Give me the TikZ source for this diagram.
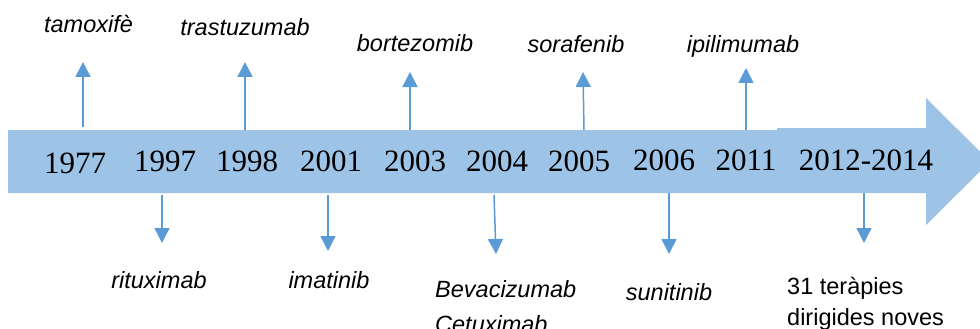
\documentclass[tikz,border=0pt]{standalone}
\usepackage{fontspec}
\setmainfont{Liberation Serif}
\setsansfont{Liberation Sans}
\usetikzlibrary{arrows.meta}
\definecolor{bandblue}{HTML}{9DC3E6}
\definecolor{arrowblue}{HTML}{5B9BD5}
\tikzset{
  yearlbl/.style={anchor=base, inner sep=0pt, font=\fontsize{31}{31}\selectfont},
  druglbl/.style={anchor=base, inner sep=0pt, font=\sffamily\itshape\fontsize{23.5}{31}\selectfont},
  notelbl/.style={anchor=base west, inner sep=0pt, font=\sffamily\fontsize{23.5}{31}\selectfont},
  pointer/.style={draw=arrowblue, line width=1.5pt, -{Triangle[width=15pt,length=15pt]}, arrowblue}
}
\begin{document}
\begin{tikzpicture}[x=1pt,y=-1pt]
\path[use as bounding box] (0,0) rectangle (980,329);
\begin{scope}
\clip (0,0) rectangle (980,329);
% band arrow
\fill[bandblue] (8,130) -- (777,130) -- (777,128) -- (926,128) -- (926,98)
  -- (990,161.5) -- (926,225) -- (926,193) -- (8,193) -- cycle;
% years
\node[yearlbl] (y1977) at (75,173) {1977};
\node[yearlbl] (y1997) at (165,171.5) {1997};
\node[yearlbl] (y1998) at (247,171.5) {1998};
\node[yearlbl] (y2001) at (331,171.5) {2001};
\node[yearlbl] (y2003) at (415,171.5) {2003};
\node[yearlbl] (y2004) at (497,171.5) {2004};
\node[yearlbl] (y2005) at (579,171.5) {2005};
\node[yearlbl] (y2006) at (664,170) {2006};
\node[yearlbl] (y2011) at (746,170) {2011};
\node[yearlbl] (y2012) at (866,170) {2012-2014};
% arrow coordinates
\coordinate (s1977) at (83,127);  \coordinate (t1977) at (83,62);
\coordinate (s1998) at (245,130); \coordinate (t1998) at (245,62);
\coordinate (s2003) at (410,130); \coordinate (t2003) at (410,72);
\coordinate (s2005) at (584,130); \coordinate (t2005) at (583,72);
\coordinate (s2011) at (746,130); \coordinate (t2011) at (746,68);
\coordinate (s1997) at (162,195); \coordinate (t1997) at (162,243);
\coordinate (s2001) at (328,195); \coordinate (t2001) at (328,251);
\coordinate (s2004) at (494,195); \coordinate (t2004) at (496,254);
\coordinate (s2006) at (669,193); \coordinate (t2006) at (669,254);
\coordinate (s2012) at (864,193); \coordinate (t2012) at (864,243);
\foreach \k in {1977,1998,2003,2005,2011,1997,2001,2004,2006,2012}
  \draw[pointer] (s\k) -- (t\k);
% labels
\node[druglbl] (tam) at (88.5,33) {tamoxifè};
\node[druglbl] (tra) at (245,36) {trastuzumab};
\node[druglbl] (bor) at (415,52) {bortezomib};
\node[druglbl] (sor) at (576,53) {sorafenib};
\node[druglbl] (ipi) at (743,53) {ipilimumab};
\node[druglbl] (rit) at (159,288) {rituximab};
\node[druglbl] (ima) at (329,288) {imatinib};
\node[druglbl] (sun) at (669,300) {sunitinib};
\node[druglbl, anchor=base west] (bev) at (435,297) {Bevacizumab};
\node[druglbl, anchor=base west] (cet) at (435,332) {Cetuximab};
\node[notelbl] (n1) at (787,294) {31 teràpies};
\node[notelbl] (n2) at (787,325) {dirigides noves};
\end{scope}
\end{tikzpicture}
\end{document}
